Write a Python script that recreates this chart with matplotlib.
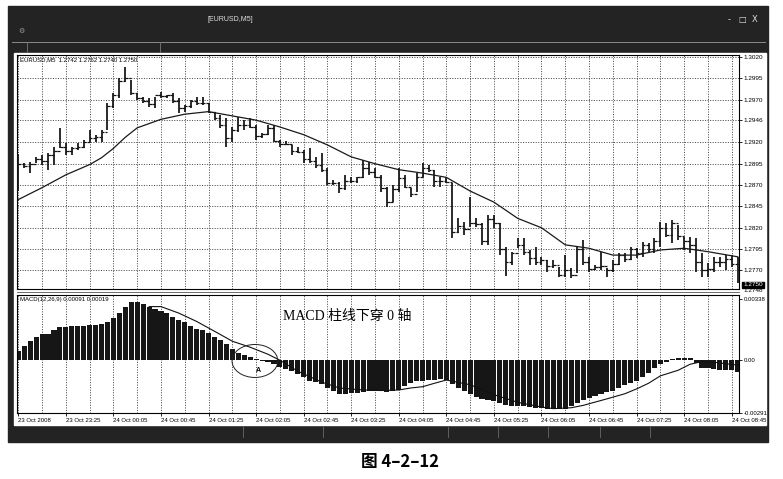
import matplotlib
matplotlib.use('Agg')
import matplotlib.pyplot as plt
import matplotlib.transforms as mtransforms
from matplotlib.patches import Rectangle, Ellipse

plt.rcParams['font.family'] = ['Liberation Sans', 'Noto Sans CJK SC', 'DejaVu Sans']
plt.rcParams['axes.unicode_minus'] = False

W, H = 783, 479

# EURUSD M5 bars
high = [
    1.2906, 1.2896, 1.2897, 1.2903, 1.2905, 1.2908, 1.2915, 1.2937, 1.2919, 1.2915,
    1.2919, 1.2923, 1.2935, 1.2929, 1.2935, 1.2966, 1.2978, 1.2995, 1.3008, 1.2993,
    1.2978, 1.2973, 1.2972, 1.2973, 1.2979, 1.2976, 1.2978, 1.2972, 1.2964, 1.2970,
    1.2973, 1.2973, 1.2966, 1.2956, 1.2952, 1.2949, 1.2938, 1.2950, 1.2946, 1.2949,
    1.2940, 1.2931, 1.2940, 1.2940, 1.2923, 1.2922, 1.2917, 1.2915, 1.2911, 1.2913,
    1.2903, 1.2908, 1.2890, 1.2876, 1.2874, 1.2882, 1.2879, 1.2879, 1.2899, 1.2897,
    1.2890, 1.2882, 1.2868, 1.2870, 1.2890, 1.2882, 1.2867, 1.2884, 1.2896, 1.2894,
    1.2888, 1.2879, 1.2879, 1.2872, 1.2832, 1.2827, 1.2856, 1.2832, 1.2826, 1.2835,
    1.2835, 1.2826, 1.2798, 1.2792, 1.2808, 1.2808, 1.2794, 1.2798, 1.2786, 1.2782,
    1.2782, 1.2774, 1.2788, 1.2773, 1.2798, 1.2806, 1.2786, 1.2776, 1.2792, 1.2773,
    1.2782, 1.2791, 1.2791, 1.2798, 1.2796, 1.2803, 1.2802, 1.2808, 1.2827, 1.2826,
    1.2829, 1.2823, 1.2809, 1.2809, 1.2808, 1.2791, 1.2779, 1.2786, 1.2786, 1.2788,
    1.2788, 1.2786]
low = [
    1.2863, 1.2890, 1.2884, 1.2896, 1.2894, 1.2888, 1.2894, 1.2913, 1.2905, 1.2905,
    1.2911, 1.2913, 1.2920, 1.2920, 1.2920, 1.2935, 1.2960, 1.2972, 1.2991, 1.2976,
    1.2970, 1.2966, 1.2961, 1.2960, 1.2972, 1.2972, 1.2966, 1.2954, 1.2956, 1.2960,
    1.2964, 1.2964, 1.2954, 1.2946, 1.2937, 1.2915, 1.2920, 1.2932, 1.2935, 1.2937,
    1.2923, 1.2925, 1.2929, 1.2920, 1.2915, 1.2917, 1.2905, 1.2908, 1.2896, 1.2896,
    1.2890, 1.2885, 1.2870, 1.2870, 1.2861, 1.2864, 1.2872, 1.2872, 1.2878, 1.2882,
    1.2878, 1.2862, 1.2844, 1.2850, 1.2862, 1.2867, 1.2856, 1.2862, 1.2879, 1.2885,
    1.2868, 1.2868, 1.2872, 1.2808, 1.2814, 1.2812, 1.2821, 1.2821, 1.2800, 1.2800,
    1.2820, 1.2788, 1.2764, 1.2776, 1.2796, 1.2788, 1.2776, 1.2776, 1.2776, 1.2768,
    1.2773, 1.2762, 1.2762, 1.2761, 1.2767, 1.2776, 1.2768, 1.2771, 1.2771, 1.2762,
    1.2768, 1.2776, 1.2780, 1.2782, 1.2785, 1.2786, 1.2791, 1.2791, 1.2798, 1.2809,
    1.2802, 1.2806, 1.2794, 1.2791, 1.2768, 1.2762, 1.2762, 1.2768, 1.2774, 1.2771,
    1.2774, 1.2755]
close = [
    1.2895, 1.2892, 1.2895, 1.2900, 1.2898, 1.2905, 1.2910, 1.2915, 1.2910, 1.2913,
    1.2915, 1.2920, 1.2925, 1.2926, 1.2932, 1.2962, 1.2975, 1.2992, 1.2995, 1.2978,
    1.2972, 1.2968, 1.2965, 1.2975, 1.2974, 1.2975, 1.2968, 1.2960, 1.2962, 1.2968,
    1.2966, 1.2966, 1.2956, 1.2948, 1.2940, 1.2925, 1.2935, 1.2940, 1.2940, 1.2938,
    1.2928, 1.2930, 1.2937, 1.2922, 1.2918, 1.2918, 1.2910, 1.2909, 1.2900, 1.2898,
    1.2893, 1.2888, 1.2872, 1.2872, 1.2866, 1.2875, 1.2875, 1.2880, 1.2890, 1.2885,
    1.2880, 1.2866, 1.2850, 1.2865, 1.2878, 1.2868, 1.2860, 1.2880, 1.2890, 1.2888,
    1.2875, 1.2875, 1.2874, 1.2815, 1.2822, 1.2818, 1.2825, 1.2824, 1.2805, 1.2830,
    1.2825, 1.2795, 1.2780, 1.2790, 1.2800, 1.2792, 1.2785, 1.2780, 1.2782, 1.2775,
    1.2776, 1.2765, 1.2770, 1.2765, 1.2795, 1.2780, 1.2772, 1.2774, 1.2775, 1.2770,
    1.2778, 1.2788, 1.2784, 1.2795, 1.2790, 1.2800, 1.2795, 1.2805, 1.2820, 1.2812,
    1.2825, 1.2810, 1.2805, 1.2800, 1.2780, 1.2770, 1.2772, 1.2780, 1.2780, 1.2784,
    1.2778, 1.2758]
first_open = 1.2900

# moving average, sampled along the line
ma_bar = [0, 4, 8, 12, 14, 16, 18, 20, 24, 28, 32, 36, 40, 44, 48, 52, 56, 60,
          64, 68, 72, 76, 80, 84, 88, 92, 96, 100, 104, 108, 112, 116, 121]
ma_val = [1.2853, 1.2867, 1.2882, 1.2894, 1.2902, 1.2913, 1.2926, 1.2937, 1.2947,
          1.2953, 1.2956, 1.2951, 1.2946, 1.2938, 1.2929, 1.2917, 1.2903, 1.2895,
          1.2888, 1.2884, 1.2879, 1.2863, 1.2850, 1.2831, 1.2820, 1.2800, 1.2796,
          1.2788, 1.2788, 1.2794, 1.2796, 1.2792, 1.2786]

# MACD(12,26,9) histogram
macd = [
    0.00051, 0.00078, 0.00105, 0.00129, 0.00146, 0.00147, 0.00169, 0.00181, 0.00184, 0.00187,
    0.00187, 0.00187, 0.00192, 0.00196, 0.00200, 0.00209, 0.00233, 0.00263, 0.00296, 0.00320,
    0.00320, 0.00311, 0.00296, 0.00283, 0.00273, 0.00260, 0.00241, 0.00223, 0.00209, 0.00187,
    0.00174, 0.00169, 0.00151, 0.00127, 0.00109, 0.00087, 0.00064, 0.00042, 0.00029, 0.00018,
    0.00006, -0.00003, -0.00008, -0.00020, -0.00037, -0.00049, -0.00061, -0.00076, -0.00094, -0.00113,
    -0.00122, -0.00131, -0.00154, -0.00171, -0.00185, -0.00185, -0.00181, -0.00181, -0.00176, -0.00171,
    -0.00167, -0.00171, -0.00176, -0.00172, -0.00164, -0.00140, -0.00127, -0.00116, -0.00113, -0.00109,
    -0.00107, -0.00104, -0.00107, -0.00131, -0.00153, -0.00171, -0.00185, -0.00200, -0.00213, -0.00218,
    -0.00225, -0.00236, -0.00245, -0.00251, -0.00254, -0.00254, -0.00258, -0.00262, -0.00263, -0.00267,
    -0.00267, -0.00267, -0.00267, -0.00254, -0.00236, -0.00222, -0.00209, -0.00195, -0.00185, -0.00176,
    -0.00167, -0.00153, -0.00136, -0.00127, -0.00113, -0.00094, -0.00072, -0.00044, -0.00022, -0.00007,
    0.00009, 0.00011, 0.00011, 0.00011, -0.00013, -0.00040, -0.00044, -0.00049, -0.00054, -0.00054,
    -0.00054, -0.00067]

# signal line, sampled where it is visible
sig_bar = [22, 24, 27, 30, 33, 36, 39, 42, 44, 47, 51, 54, 58, 61, 64, 66, 68, 70, 72,
           76, 80, 84, 88, 90, 93, 95, 97, 99, 102, 104, 106, 108, 111, 113, 115, 117, 121]
sig_val = [0.00296, 0.00296, 0.00260, 0.00214, 0.00160, 0.00105, 0.00072, 0.00033, 0.0,
           -0.00060, -0.00120, -0.00153, -0.00164, -0.00167, -0.00164, -0.00153, -0.00146,
           -0.00127, -0.00109, -0.00135, -0.00190, -0.00232, -0.00258, -0.00267, -0.00262,
           -0.00249, -0.00231, -0.00213, -0.00185, -0.00158, -0.00127, -0.00086, -0.00055,
           -0.00022, -0.00007, -0.00011, -0.00027]

price_ticks = [1.3020, 1.2995, 1.2970, 1.2946, 1.2920, 1.2895, 1.2870,
               1.2845, 1.2820, 1.2795, 1.2770]
time_ticks = list(range(0, 121, 8))
time_labels = ['23 Oct 2008', '23 Oct 23:25', '24 Oct 00:05', '24 Oct 00:45',
               '24 Oct 01:25', '24 Oct 02:05', '24 Oct 02:45', '24 Oct 03:25',
               '24 Oct 04:05', '24 Oct 04:45', '24 Oct 05:25', '24 Oct 06:05',
               '24 Oct 06:45', '24 Oct 07:25', '24 Oct 08:05', '24 Oct 08:45']
grid_bars = list(range(0, 122, 4))

idx = list(range(len(close)))
opens = [first_open] + close[:-1]


def rect(x0, y0, x1, y1):
    return [x0 / W, 1 - y1 / H, (x1 - x0) / W, (y1 - y0) / H]


fig = plt.figure(figsize=(W / 100, H / 100), dpi=100)

# window frame / page
bg = fig.add_axes([0, 0, 1, 1])
bg.set_xlim(0, W)
bg.set_ylim(H, 0)
bg.axis('off')
bg.add_patch(Rectangle((8, 6), 760, 436, color='#232323'))
bg.add_patch(Rectangle((14, 53), 752, 372, color='white'))
bg.plot([12, 765], [42, 42], color='#8c8c8c', lw=0.7)
bg.plot([27, 27], [42, 52], color='#777777', lw=0.6)
bg.plot([160, 160], [42, 52], color='#777777', lw=0.6)
bg.text(208, 19, '[EURUSD,M5]', color='#e0e0e0', fontsize=5, va='center')
bg.text(743, 19, '-   \u25a1  X', color='#dddddd', fontsize=6, va='center',
        ha='center', family='DejaVu Sans')
bg.text(21, 31, '\u2699', color='#9a9a9a', fontsize=5, va='center', ha='center',
        family='DejaVu Sans')
bg.plot([17, 739], [292, 292], color='#555555', lw=0.6)
for sx in [243, 323, 448, 498, 548, 600, 650]:
    bg.plot([sx, sx], [427, 437], color='#6a6a6a', lw=0.6)
bg.text(400, 462, '图 4\u20132\u201312', fontsize=12, weight='bold', ha='center',
        va='center', family=['Noto Sans CJK SC'])

grid_style = dict(color='#444444', lw=0.65, linestyle=(0, (1.2, 1.6)), zorder=1)

# main price window
ax = fig.add_axes(rect(17, 55, 739, 289))
ax.set_xlim(-0.22, 121.22)
ax.set_ylim(1.27483, 1.30223)
for g in grid_bars:
    ax.axvline(g, **grid_style)
for p in price_ticks:
    ax.axhline(p, **grid_style)
ax.vlines(idx, low, high, color='#111111', lw=1.25, zorder=3)
ax.hlines(close, [i for i in idx], [i + 0.45 for i in idx], color='#111111', lw=0.9, zorder=3)
ax.hlines(opens, [i - 0.45 for i in idx], [i for i in idx], color='#111111', lw=0.9, zorder=3)
ax.plot(ma_bar, ma_val, color='#1a1a1a', lw=0.9, zorder=4)
ax.yaxis.tick_right()
ax.set_yticks(price_ticks)
ax.set_yticklabels(['%.4f' % p for p in price_ticks])
ax.set_xticks([])
ax.tick_params(axis='y', labelsize=4.6, length=2, pad=1.5, width=0.6)
for s in ax.spines.values():
    s.set_linewidth(0.8)
ax.text(0.004, 0.99, 'EURUSD,M5  1.2742 1.2762 1.2740 1.2750', transform=ax.transAxes,
        fontsize=4.3, va='top', ha='left')
trans = mtransforms.blended_transform_factory(ax.transAxes, ax.transData)
ax.text(1.006, 1.2753, '1.2750', transform=trans, fontsize=4.6, color='white',
        va='center', ha='left', clip_on=False,
        bbox=dict(boxstyle='square,pad=0.15', fc='black', ec='black'))
ax.text(1.006, 1.2746, '1.2748', transform=trans, fontsize=4.6, va='center',
        ha='left', clip_on=False)

# MACD window
ax2 = fig.add_axes(rect(17, 295, 739, 413))
ax2.set_xlim(-0.22, 121.22)
ax2.set_ylim(-0.00291, 0.00360)
for g in grid_bars:
    ax2.axvline(g, **grid_style)
ax2.bar(idx, macd, width=0.86, color='#161616', zorder=2)
ax2.plot(sig_bar, sig_val, color='#111111', lw=0.8, zorder=3)
ax2.yaxis.tick_right()
ax2.set_yticks([0.00338, 0.0, -0.00291])
ax2.set_yticklabels(['0.00338', '0.00', '-0.00291'])
ax2.set_xticks(time_ticks)
ax2.set_xticklabels(time_labels, ha='left')
ax2.tick_params(axis='both', labelsize=4.3, length=2, pad=1.5, width=0.6)
for s in ax2.spines.values():
    s.set_linewidth(0.8)
ax2.text(0.004, 0.985, 'MACD(12,26,9) 0.00091 0.00019', transform=ax2.transAxes,
         fontsize=4.3, va='top', ha='left')

# annotation
ax2.add_patch(Ellipse((39.8, -0.00004), 7.7, 0.00182, fill=False, ec='#222222',
                      lw=0.7, zorder=5, clip_on=False))
ax2.text(40.3, -0.00054, 'A', fontsize=5, weight='bold', ha='center', va='center',
         zorder=6)
ax2.text(44.5, 0.00239, 'MACD 柱线下穿 0 轴', fontsize=10, va='center', ha='left',
         family=['Liberation Serif', 'Noto Sans CJK SC'], zorder=6)

fig.savefig('out.png', dpi=100)
